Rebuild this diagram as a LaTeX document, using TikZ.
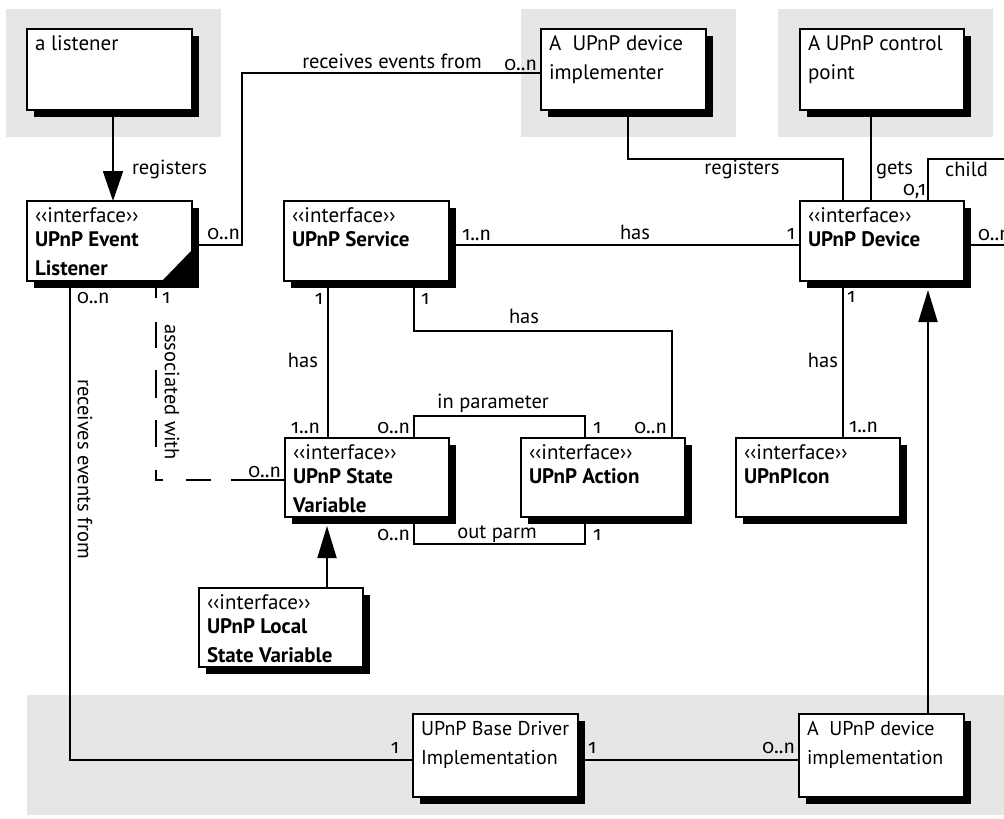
\documentclass[tikz,border=0pt]{standalone}
\usepackage{fontspec}
\setmainfont{PT Sans}
\newfontfamily\multfont[Numbers=OldStyle]{Fira Sans}
\usetikzlibrary{arrows.meta,shadows,calc}
\definecolor{bggray}{RGB}{230,230,230}
\newcommand\bx[3]{\parbox[c][#2pt][t]{#1pt}{\raggedright #3}}
\newcommand\iface{‹‹interface››\\[-5pt]}
\begin{document}
\begin{tikzpicture}[x=1pt,y=-1pt,
  every node/.style={outer sep=0pt},
  umlbox/.style={draw, line width=1.8pt, fill=white, anchor=north west, inner xsep=8pt, inner ysep=7pt,
    general shadow={fill=black, shadow xshift=7pt, shadow yshift=-7pt}, font=\fontsize{21}{29}\selectfont},
  implbox/.style={umlbox, font=\fontsize{20}{29}\selectfont},
  conn/.style={line width=1.8pt},
  lab/.style={inner sep=0pt, font=\fontsize{20.5}{22}\selectfont},
  mult/.style={inner sep=0pt, font=\multfont\fontsize{19.5}{20}\selectfont},
  arr/.style={conn, -{Triangle[length=30pt,width=20pt]}},
  inh/.style={conn, -{Triangle[length=32pt,width=19pt]}},
  assocdash/.style={conn, dash pattern=on 54pt off 20pt on 25pt off 23pt on 17pt off 23pt on 27pt off 22pt on 28pt off 22pt on 26pt off 24pt on 17pt}
]
\useasboundingbox (0,0) rectangle (1004,819);
\clip (0,0) rectangle (1004,819);
% backgrounds
\fill[bggray] (6,9) rectangle (221,137);
\fill[bggray] (521,9) rectangle (736,137);
\fill[bggray] (778,9) rectangle (993,137);
\fill[bggray] (27,695) rectangle (1004,815);
% boxes
\node[umlbox] (listener) at (27,29) {\bx{149}{67}{a listener}};
\node[umlbox] (impl) at (541,29) {\bx{149}{67}{A\ \ UPnP device\\implementer}};
\node[umlbox] (cp) at (800,29) {\bx{148}{67}{A UPnP control\\point}};
\node[umlbox] (evl) at (27,201) {\bx{149}{66}{\iface\textbf{UPnP Event}\\\textbf{Listener}}};
\node[umlbox] (svc) at (284,201) {\bx{149}{66}{\iface\textbf{UPnP Service}}};
\node[umlbox] (dev) at (800,201) {\bx{148}{66}{\iface\textbf{UPnP Device}}};
\node[umlbox] (sv) at (285,438) {\bx{148}{65}{\iface\textbf{UPnP State}\\\textbf{Variable}}};
\node[umlbox] (act) at (521,438) {\bx{148}{65}{\iface\textbf{UPnP Action}}};
\node[umlbox] (icon) at (736,438) {\bx{148}{65}{\iface\textbf{UPnPIcon}}};
\node[umlbox] (lsv) at (199,588) {\bx{148}{65}{\iface\textbf{UPnP Local}\\\textbf{State Variable}}};
\node[implbox] (bdi) at (413,714) {\bx{149}{69}{\mbox{UPnP Base Driver}\\Implementation}};
\node[implbox] (dimpl) at (799,714) {\bx{149}{69}{A\ \ UPnP device\\implementation}};
% folded corner
\fill ($(evl.south east)+(0,-31)$) -- (evl.south east) -- ($(evl.south east)+(-30,0)$) -- cycle;
% connectors
\draw[arr] (113,0 |- listener.south) -- (113,0 |- evl.north);
\draw[conn] (evl.east |- 0,245) -- (242,245) -- (242,73) -- (impl.west |- 0,73);
\draw[conn] (628,0 |- impl.south) -- (628,159) -- (843,159) -- (843,0 |- dev.north);
\draw[conn] (871,0 |- cp.south) -- (871,0 |- dev.north);
\draw[conn] (928,0 |- dev.north) -- (928,159) -- (1012,159) -- (1012,245) -- (dev.east |- 0,245);
\draw[conn] (svc.east |- 0,245) -- (dev.west |- 0,245);
\draw[conn] (328,0 |- svc.south) -- (328,0 |- sv.north);
\draw[conn] (414,0 |- svc.south) -- (414,331) -- (672,331) -- (672,0 |- act.north);
\draw[conn] (414,0 |- sv.north) -- (414,416) -- (585,416) -- (585,0 |- act.north);
\draw[conn] (414,0 |- sv.south) -- (414,544) -- (585,544) -- (585,0 |- act.south);
\draw[assocdash] (sv.west |- 0,480) -- (156,480) -- (156,0 |- evl.south);
\draw[conn] (70,0 |- evl.south) -- (70,760) -- (bdi.west |- 0,760);
\draw[conn] (bdi.east |- 0,760) -- (dimpl.west |- 0,760);
\draw[conn] (843,0 |- dev.south) -- (843,0 |- icon.north);
\draw[inh] (327,0 |- lsv.north) -- ($(sv.south -| 327,0)+(0,9)$);
\draw[inh] (928,0 |- dimpl.north) -- ($(dev.south -| 928,0)+(0,9)$);
% connector labels
\node[lab, anchor=base west] (t1) at (132,174) {registers};
\node[lab, anchor=base] (t2) at (392,68) {receives events from};
\node[lab, anchor=base] (t3) at (742,174) {registers};
\node[lab, anchor=base west] (t4) at (876,174) {gets};
\node[lab, anchor=base west] (t5) at (945,176) {child};
\node[lab, anchor=base] (t6) at (635,239) {has};
\node[lab, anchor=base east] (t7) at (318,367) {has};
\node[lab, anchor=base] (t8) at (524,323) {has};
\node[lab, anchor=base] (t9) at (493,408) {in parameter};
\node[lab, anchor=base] (t10) at (497,538) {out parm};
\node[lab, anchor=base east] (t11) at (838,367) {has};
\node[lab, rotate=-90] (t12) at (172,392) {associated with};
\node[lab, rotate=-90] (t13) at (85,469) {receives events from};
% multiplicities
\node[mult, anchor=base east] (m1) at (240,239) {0..n};
\node[mult, anchor=base east] (m2) at (537,70) {0..n};
\node[mult, anchor=base west] (m3) at (462,240) {1..n};
\node[mult, anchor=base east] (m4) at (795,239) {1};
\node[mult, anchor=base east] (m5) at (926,195) {0,1};
\node[mult, anchor=base west] (m6) at (978,240) {0..n};
\node[mult, anchor=base west] (m7) at (77,303) {0..n};
\node[mult, anchor=base west] (m8) at (162,303) {1};
\node[mult, anchor=base east] (m9) at (323,304) {1};
\node[mult, anchor=base west] (m10) at (421,304) {1};
\node[mult, anchor=base east] (m11) at (320,433) {1..n};
\node[mult, anchor=base east] (m12) at (410,433) {0..n};
\node[mult, anchor=base west] (m13) at (593,433) {1};
\node[mult, anchor=base east] (m14) at (667,433) {0..n};
\node[mult, anchor=base east] (m15) at (281,477) {0..n};
\node[mult, anchor=base east] (m16) at (410,540) {0..n};
\node[mult, anchor=base west] (m17) at (593,540) {1};
\node[mult, anchor=base west] (m18) at (847,302) {1};
\node[mult, anchor=base west] (m19) at (849,432) {1..n};
\node[mult, anchor=base east] (m20) at (399,753) {1};
\node[mult, anchor=base west] (m21) at (588,753) {1};
\node[mult, anchor=base east] (m22) at (795,753) {0..n};
\end{tikzpicture}
\end{document}
